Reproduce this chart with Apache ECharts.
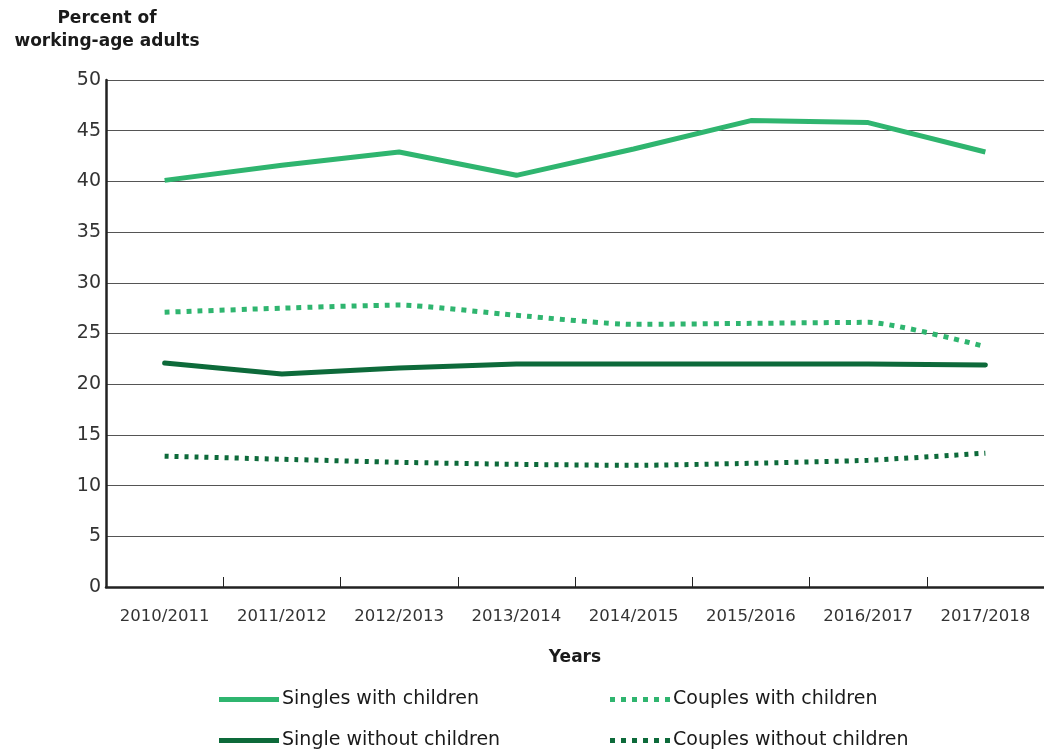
<!DOCTYPE html>
<html>
<head>
<meta charset="utf-8">
<script src="https://cdn.jsdelivr.net/npm/echarts@6/dist/echarts.min.js"></script>
<style>
html, body { margin: 0; padding: 0; background: #fff; }
#chart { width: 1044px; height: 752px; }
</style>
</head>
<body>
<div id="chart"></div>
<script>
// years on the x axis
var years = ['2010/2011', '2011/2012', '2012/2013', '2013/2014', '2014/2015', '2015/2016', '2016/2017', '2017/2018'];
// percent of working-age adults
var singlesWithChildren = [40.1, 41.6, 42.9, 40.6, 43.2, 46.0, 45.8, 42.9];
var couplesWithChildren = [27.1, 27.5, 27.8, 26.8, 25.9, 26.0, 26.1, 23.7];
var singleWithoutChildren = [22.1, 21.0, 21.6, 22.0, 22.0, 22.0, 22.0, 21.9];
var couplesWithoutChildren = [12.9, 12.6, 12.3, 12.1, 12.0, 12.2, 12.5, 13.2];

var lightGreen = '#2fb56f';
var darkGreen = '#0d6a3a';
var font = 'DejaVu Sans';

// legend icons: a solid bar and a row of square dots
var solidIcon = 'path://M0,0h60v5h-60z';
var dotIcon = 'path://M0,0h5v5h-5z M11,0h5v5h-5z M22,0h5v5h-5z M33,0h5v5h-5z M44,0h5v5h-5z M55,0h5v5h-5z';

var chart = echarts.init(document.getElementById('chart'));

function legendAt(name, icon, left, top) {
    return {
        data: [{ name: name, icon: icon }],
        left: left,
        top: top,
        orient: 'horizontal',
        itemWidth: 60,
        itemHeight: 5,
        itemGap: 4,
        selectedMode: false,
        textStyle: { fontFamily: font, fontSize: 19, color: '#1a1a1a', padding: [0, 0, 0, -2] }
    };
}

var option = {
    animation: false,
    title: {
        text: 'Percent of\nworking-age adults',
        left: 102,
        top: 2,
        textAlign: 'center',
        textStyle: { fontFamily: font, fontSize: 17, fontWeight: 600, color: '#1a1a1a', lineHeight: 23 }
    },
    legend: [
        legendAt('Singles with children', solidIcon, 214, 685),
        legendAt('Couples with children', dotIcon, 605, 685),
        legendAt('Single without children', solidIcon, 214, 726),
        legendAt('Couples without children', dotIcon, 605, 726)
    ],
    grid: { left: 106, right: 0, top: 80, bottom: 165 },
    xAxis: {
        type: 'category',
        data: years,
        boundaryGap: true,
        name: 'Years',
        nameLocation: 'middle',
        nameGap: 62,
        nameTextStyle: { fontFamily: font, fontSize: 17, fontWeight: 600, color: '#1a1a1a' },
        axisLine: { show: true, lineStyle: { color: '#222', width: 2.5 } },
        axisTick: { show: true, inside: true, interval: 0, length: 10, lineStyle: { color: '#222', width: 1 } },
        axisLabel: { fontFamily: font, fontSize: 16.5, color: '#333', margin: 21, interval: 0 },
        splitLine: { show: false }
    },
    yAxis: {
        type: 'value',
        min: 0,
        max: 50,
        interval: 5,
        axisLine: { show: true, lineStyle: { color: '#222', width: 2.5 } },
        axisTick: { show: false },
        axisLabel: { fontFamily: font, fontSize: 19, color: '#333', margin: 5, padding: [0, 0, 6, 0] },
        splitLine: { show: true, lineStyle: { color: '#555', width: 1 } }
    },
    series: [
        {
            name: 'Singles with children',
            type: 'line',
            data: singlesWithChildren,
            symbol: 'none',
            lineStyle: { color: lightGreen, width: 5 },
            itemStyle: { color: lightGreen }
        },
        {
            name: 'Couples with children',
            type: 'line',
            data: couplesWithChildren,
            symbol: 'none',
            smooth: 0.2,
            lineStyle: { color: lightGreen, width: 5, type: [5, 6] },
            itemStyle: { color: lightGreen }
        },
        {
            name: 'Single without children',
            type: 'line',
            data: singleWithoutChildren,
            symbol: 'none',
            lineStyle: { color: darkGreen, width: 5, cap: 'round' },
            itemStyle: { color: darkGreen }
        },
        {
            name: 'Couples without children',
            type: 'line',
            data: couplesWithoutChildren,
            symbol: 'none',
            smooth: 0.2,
            lineStyle: { color: darkGreen, width: 5, type: [4, 6] },
            itemStyle: { color: darkGreen }
        }
    ]
};

chart.setOption(option);
window.onresize = chart.resize;
</script>
</body>
</html>
